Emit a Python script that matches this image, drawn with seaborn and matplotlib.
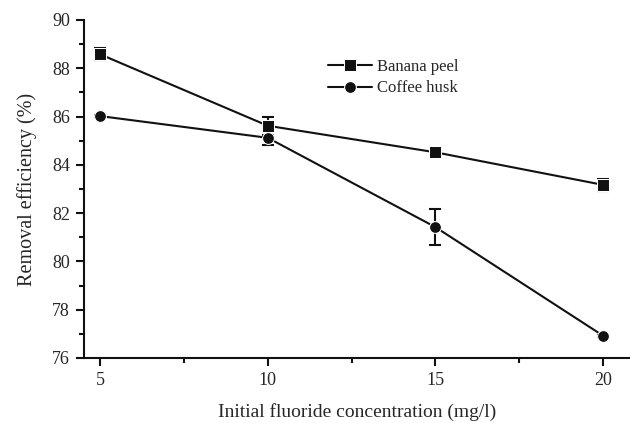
import matplotlib
matplotlib.use("Agg")
import matplotlib.pyplot as plt
import seaborn as sns
import pandas as pd

concentration = [5, 10, 15, 20]
banana_peel = [88.58, 85.62, 84.52, 83.17]
banana_err = [0.25, 0.38, 0.08, 0.25]
coffee_husk = [86.02, 85.12, 81.42, 76.92]
coffee_err = [0.05, 0.28, 0.75, 0.05]

df = pd.concat([
    pd.DataFrame({"conc": concentration, "eff": banana_peel, "err": banana_err, "series": "Banana peel"}),
    pd.DataFrame({"conc": concentration, "eff": coffee_husk, "err": coffee_err, "series": "Coffee husk"}),
])

sns.set_style("ticks")
plt.rcParams["font.family"] = ["Liberation Serif", "DejaVu Serif"]

fig = plt.figure(figsize=(6.3, 4.23), dpi=100)
ax = fig.add_axes([84 / 630, 1 - 358 / 423, 546 / 630, 338 / 423])

sns.lineplot(data=df, x="conc", y="eff", hue="series", style="series",
             markers={"Banana peel": "s", "Coffee husk": "o"}, dashes=False,
             palette={"Banana peel": "#111111", "Coffee husk": "#111111"},
             markersize=8.5, linewidth=1.5, ax=ax, legend=True)

for name, vals, errs in [("Banana peel", banana_peel, banana_err), ("Coffee husk", coffee_husk, coffee_err)]:
    ax.errorbar(concentration, vals, yerr=errs, fmt="none", ecolor="#111111",
                elinewidth=1.5, capsize=4, capthick=1.5, zorder=1)

ax.set_xlim(4.52, 20.8)
ax.set_ylim(76, 90)
ax.set_xticks(concentration)
ax.set_xticks([7.5, 12.5, 17.5], minor=True)
ax.set_yticks([76, 78, 80, 82, 84, 86, 88, 90])
ax.set_yticks([77, 79, 81, 83, 85, 87, 89], minor=True)
ax.tick_params(axis="both", which="major", direction="out", length=6, width=1.5, labelsize=13,
               color="#111111", pad=4)
ax.tick_params(axis="both", which="minor", direction="out", length=3.5, width=1.5, color="#111111")
for s in ["left", "bottom"]:
    ax.spines[s].set_linewidth(1.5)
    ax.spines[s].set_color("#111111")
sns.despine(ax=ax)

ax.set_xlabel("Initial fluoride concentration (mg/l)", fontsize=14, labelpad=10)
ax.set_ylabel("Removal efficiency (%)", fontsize=14.5, labelpad=11)

handles, labels = ax.get_legend_handles_labels()
ax.legend(handles, labels, loc="upper left", bbox_to_anchor=(0.42, 0.93), frameon=False,
          fontsize=12, handlelength=2.6, handletextpad=0.3, labelspacing=0.35)

fig.savefig("out.png", dpi=100)
